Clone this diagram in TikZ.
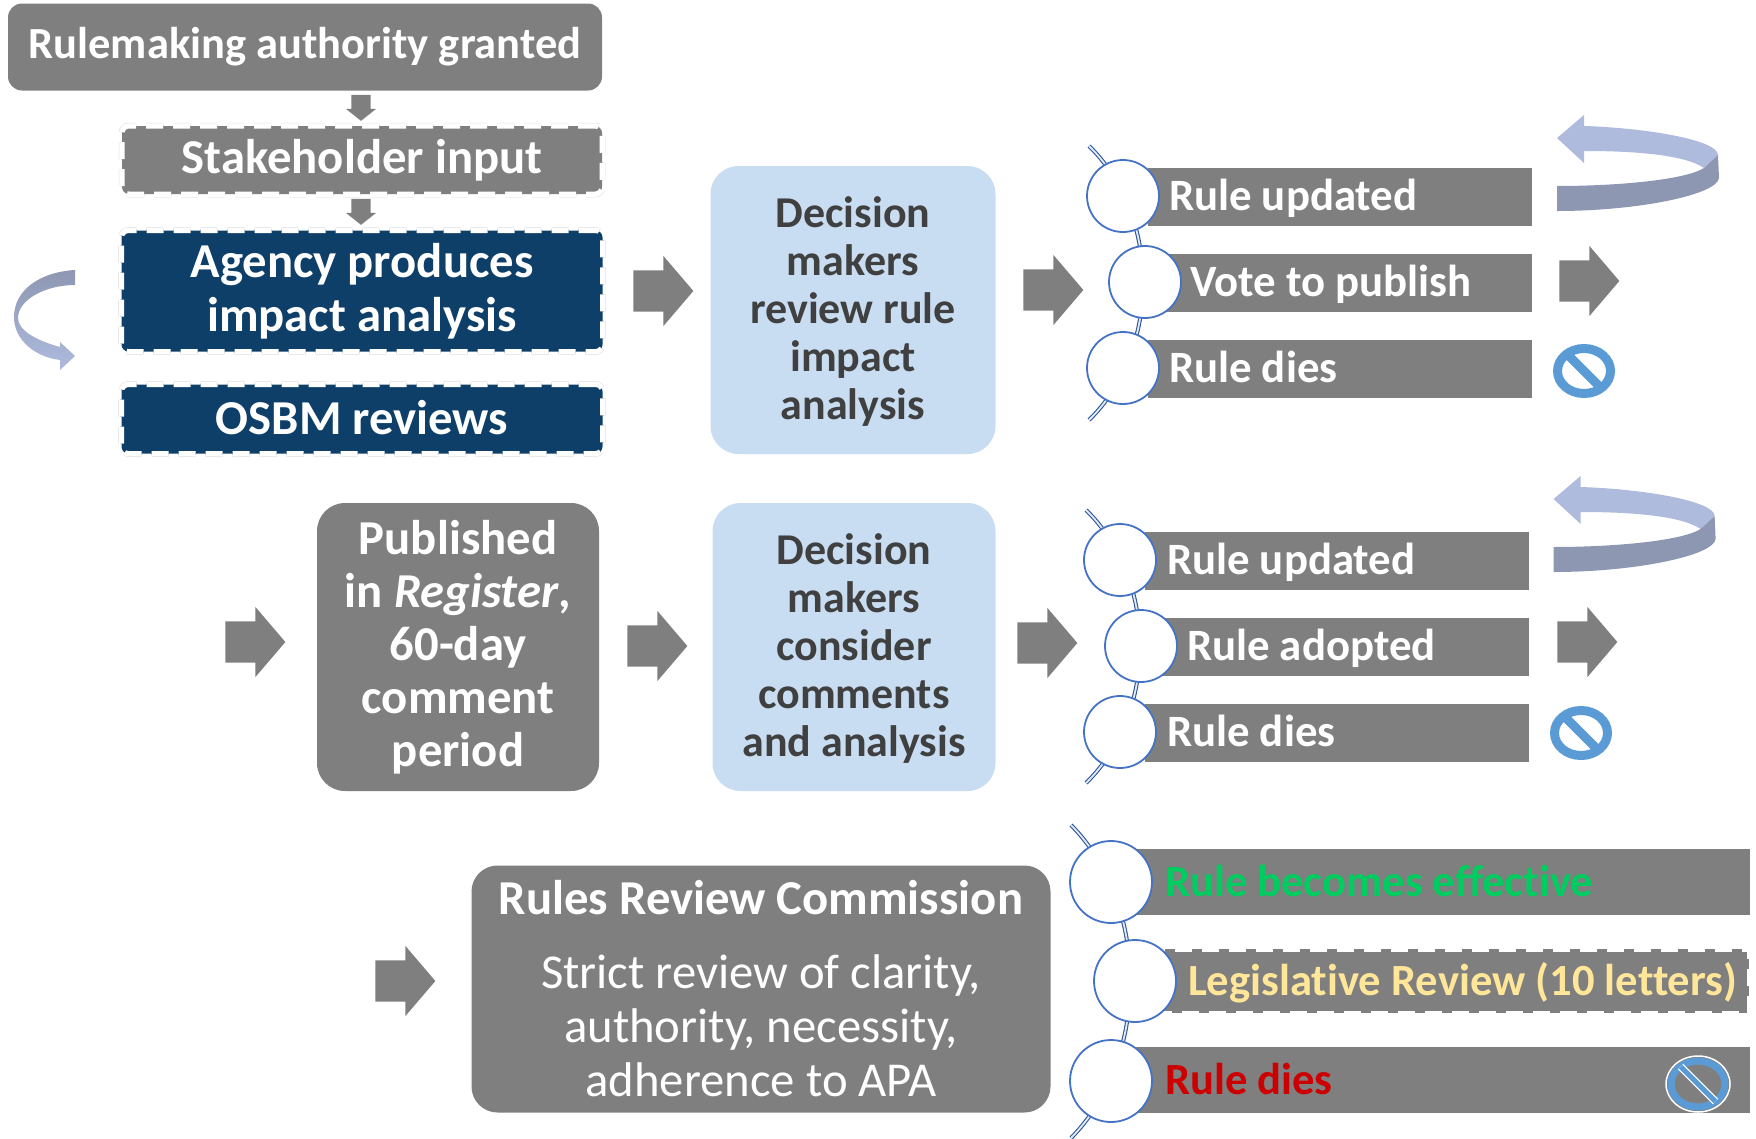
\documentclass[tikz,border=0pt]{standalone}
\usepackage{fontspec}
\setmainfont[Ligatures={NoCommon}]{Carlito}
\usetikzlibrary{shapes.arrows,shapes.geometric,calc}
\definecolor{gbar}{HTML}{7F7F7F}
\definecolor{navy}{HTML}{0E3F69}
\definecolor{lblue}{HTML}{C9DDF2}
\definecolor{ringblue}{HTML}{5B9BD5}
\definecolor{circblue}{HTML}{4472C4}
\definecolor{arcblue}{HTML}{2F5597}
\definecolor{curvelight}{HTML}{AEBBDD}
\definecolor{curvedark}{HTML}{8D97B2}
\definecolor{darktext}{HTML}{404040}
\tikzset{
  base/.style={inner sep=0pt,outer sep=0pt,align=center},
  solidbox/.style={base,fill=gbar,text=white,font=\bfseries\fontsize{48.7}{53}\selectfont},
  dashbox/.style={base,fill=#1,text=white,font=\bfseries\fontsize{48.7}{54}\selectfont,
    rounded corners=7pt,
    preaction={draw=black!15,line width=6.5pt},
    preaction={draw=white,line width=5.5pt},
    preaction={draw=#1,line width=2.5pt},
    draw=white,dash pattern=on 17pt off 10pt,line width=5pt},
  decision/.style={base,fill=lblue,text=darktext,rounded corners=28pt,font=\bfseries\fontsize{44}{48}\selectfont},
  bar/.style={base,fill=gbar,minimum height=58pt},
  rowtext/.style={base,anchor=west,text=white,text height=31pt,text depth=9pt,font=\bfseries\fontsize{44.8}{46}\selectfont},
  rowtextb/.style={rowtext,font=\bfseries\fontsize{44.6}{46}\selectfont},
  bigarrow/.style={base,single arrow,fill=gbar,minimum height=60pt,minimum width=70pt,
    single arrow head extend=14.5pt,single arrow tip angle=99,single arrow head indent=0pt},
  downarrow/.style={base,single arrow,fill=gbar,minimum height=26pt,minimum width=30pt,shape border rotate=270,
    single arrow head extend=5.5pt,single arrow tip angle=103,single arrow head indent=0pt},
  ball/.style={base,circle,fill=white,draw=circblue,line width=1.8pt,minimum size=#1},
  rail/.style={draw=arcblue,double=lblue!60,double distance=1.8pt,line width=1.1pt},
  nosign/.style={base,ellipse,draw=ringblue,line width=9pt,minimum width=53pt,minimum height=45pt},
  noslash/.style={draw=ringblue,line width=9pt}
}
\newcommand{\shaftR}{\rule{0pt}{41pt}}
\newcommand{\shaftD}{\rule{19pt}{0pt}}
\newcommand{\topstrut}{\rule{0pt}{34pt}}
\newcommand{\curvearrow}[2]{%
  \begin{scope}[shift={(#1,#2)}]
    \fill[curvelight] (1584,126) .. controls (1647,128) and (1718,140) .. (1718,155)
      -- (1704,168) .. controls (1685,155) and (1637,151) .. (1584,151)
      -- (1584,163) -- (1557,138) -- (1584,115) -- cycle;
    \fill[curvedark] (1557,186) .. controls (1617,186) and (1685,180) .. (1704,168)
      -- (1718,155) -- (1719,178) .. controls (1717,195) and (1637,211) .. (1557,211) -- cycle;
  \end{scope}}
\begin{document}
\begin{tikzpicture}[x=1pt,y=-1pt]
\useasboundingbox (0,0) rectangle (1756,1138);
% top-left column
\node[solidbox,rounded corners=14pt,minimum width=594pt,minimum height=87pt,font=\bfseries\fontsize{44.5}{53}\selectfont] (auth) at (305,47) {Rulemaking authority granted};
\node[downarrow] (da1) at (361,104) {\shaftD};
\node[dashbox=gbar,minimum width=480pt,minimum height=68pt] (stake) at (362,160) {Stakeholder input};
\node[downarrow] (da2) at (361,208) {\shaftD};
\node[dashbox=navy,minimum width=481pt,minimum height=121pt] (agency) at (362,291) {Agency produces\\impact analysis};
\node[dashbox=navy,minimum width=481pt,minimum height=69pt] (osbm) at (362,419) {\raisebox{3pt}{OSBM reviews}};
\shade[top color=curvedark,bottom color=curvelight] (75,270) .. controls (40,272) and (14,290) .. (14,317)
  .. controls (14,340) and (35,357) .. (60,360) -- (60,370) -- (75,356) -- (60,342) -- (60,347)
  .. controls (35,340) and (18,330) .. (18,318) .. controls (18,300) and (45,285) .. (75,285) -- cycle;
\node[bigarrow] (a1) at (654.5,291) {\shaftR};
\node[decision,minimum width=285pt,minimum height=288pt] (dec1) at (853,310) {\topstrut Decision\\makers\\review rule\\impact\\analysis};
\node[bigarrow] (a2) at (1044.5,290) {\shaftR};
% row group 1
\coordinate (r1a) at (1089,146); \coordinate (r1b) at (1089,420);
\draw[rail] (r1a) .. controls (1161,216) and (1161,350) .. (r1b);
\node[bar,minimum width=384pt] (b11) at (1340,197) {};
\node[bar,minimum width=366pt] (b12) at (1349,283) {};
\node[bar,minimum width=384pt] (b13) at (1340,369) {};
\node[ball=72pt] (c11) at (1123,196) {};
\node[ball=72pt] (c12) at (1145,282) {};
\node[ball=72pt] (c13) at (1123,368) {};
\node[rowtext] (t11) at (1169,199.5) {Rule updated};
\node[rowtext] (t12) at (1190,285.5) {Vote to publish};
\node[rowtext] (t13) at (1169,371.5) {Rule dies};
\curvearrow{0}{0}
\node[bigarrow] (a3) at (1580.5,281) {\shaftR};
\node[nosign] (n1) at (1584,371) {};
\draw[noslash] (n1.135) -- (n1.-45);
% row 2
\node[bigarrow] (a4) at (246.5,642) {\shaftR};
\node[solidbox,rounded corners=28pt,minimum width=282pt,minimum height=288pt] (pub) at (458,647) {Published\\in \textit{Register},\\60-day\\comment\\period};
\node[bigarrow] (a5) at (648.5,646) {\shaftR};
\node[decision,minimum width=283pt,minimum height=288pt] (dec2) at (854,647) {\topstrut Decision\\makers\\consider\\comments\\and analysis};
\node[bigarrow] (a6) at (1038.5,643) {\shaftR};
\coordinate (r2a) at (1086,510); \coordinate (r2b) at (1086,783);
\draw[rail] (r2a) .. controls (1158,580) and (1158,713) .. (r2b);
\node[bar,minimum width=384pt] (b21) at (1337,561) {};
\node[bar,minimum width=366pt] (b22) at (1346,647) {};
\node[bar,minimum width=384pt] (b23) at (1337,733) {};
\node[ball=72pt] (c21) at (1120,560) {};
\node[ball=72pt] (c22) at (1141,646) {};
\node[ball=72pt] (c23) at (1120,732) {};
\node[rowtext] (t21) at (1167,563.5) {Rule updated};
\node[rowtext] (t22) at (1187,649.5) {Rule adopted};
\node[rowtext] (t23) at (1167,735.5) {Rule dies};
\curvearrow{-3.4}{361}
\node[bigarrow] (a7) at (1578.5,642) {\shaftR};
\node[nosign] (n2) at (1581,733) {};
\draw[noslash] (n2.135) -- (n2.-45);
% row 3
\node[bigarrow] (a8) at (396.5,981) {\shaftR};
\node[solidbox,rounded corners=26pt,minimum width=579pt,minimum height=247pt,font=\fontsize{48.7}{54}\selectfont] (rrc) at (761,989) {\textbf{Rules Review Commission}\\[20pt]Strict review of clarity,\\authority, necessity,\\adherence to APA};
\coordinate (r3a) at (1071,825); \coordinate (r3b) at (1071,1138);
\draw[rail] (r3a) .. controls (1150,905) and (1150,1058) .. (r3b);
\node[bar,minimum width=618pt,minimum height=66pt] (b31) at (1441,882) {};
\node[dashbox=gbar,rounded corners=0pt,minimum width=594pt,minimum height=64pt] (b32) at (1452,981) {};
\node[bar,minimum width=618pt,minimum height=66pt] (b33) at (1441,1080) {};
\node[ball=82pt] (c31) at (1111,882) {};
\node[ball=82pt] (c32) at (1135,981) {};
\node[ball=82pt] (c33) at (1111,1081) {};
\node[rowtextb,text={rgb,255:red,0;green,204;blue,96}] (t31) at (1165,885) {Rule becomes effective};
\node[rowtextb,text={rgb,255:red,255;green,230;blue,153}] (t32) at (1188,984) {Legislative Review (10 letters)};
\node[rowtextb,text={rgb,255:red,204;green,0;blue,0}] (t33) at (1165,1083) {Rule dies};
\node[base,ellipse,draw=white,line width=1.5pt,minimum width=64pt,minimum height=56pt] (n3o) at (1698,1084) {};
\node[base,ellipse,draw=ringblue,line width=7pt,minimum width=54pt,minimum height=46pt] (n3) at (1698,1084) {};
\draw[white,line width=7.5pt] (n3.135) -- (n3.-45);
\draw[ringblue,line width=5pt] (n3.135) -- (n3.-45);
\end{tikzpicture}
\end{document}
